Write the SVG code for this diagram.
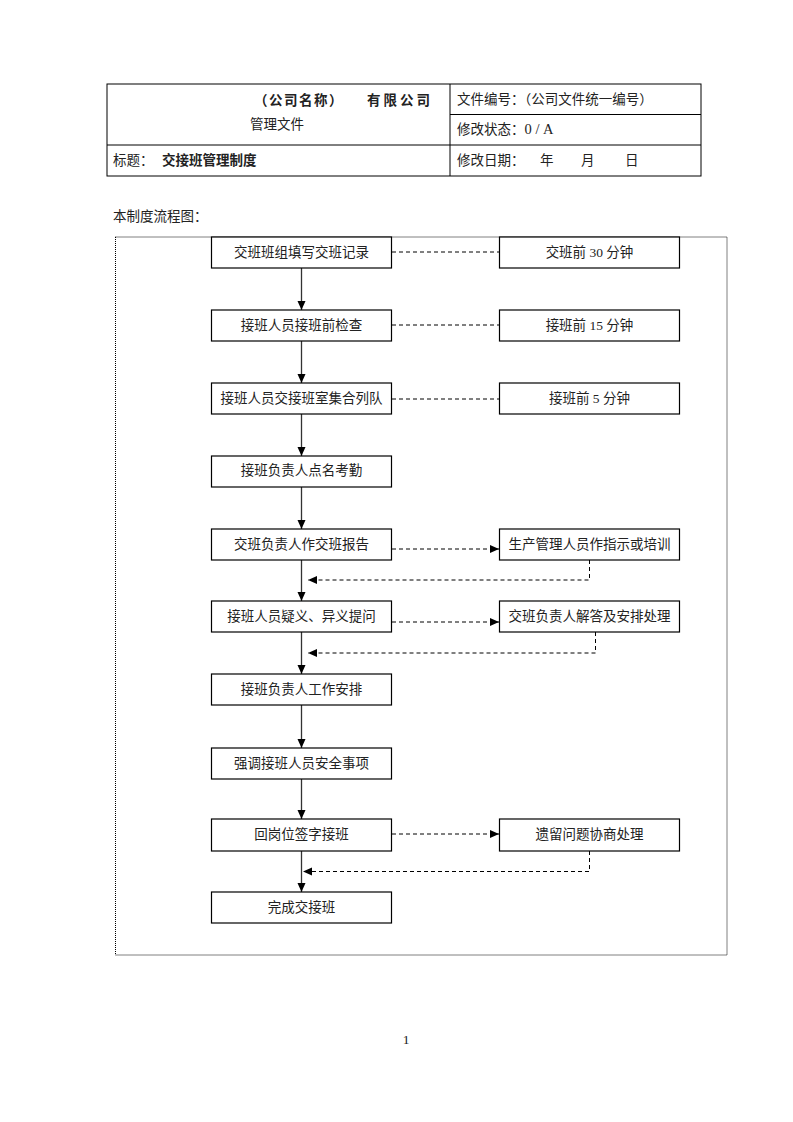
<svg xmlns="http://www.w3.org/2000/svg" width="793" height="1122" viewBox="0 0 793 1122">
<defs>
<style>
text{font-family:"Liberation Serif","Noto Sans CJK SC",serif;font-size:13.5px;fill:#222}
.c{text-anchor:middle}
.box{fill:#fff;stroke:#000;stroke-width:1.2}
.tb{fill:none;stroke:#000;stroke-width:1}
.flow{stroke:#333;stroke-width:1.3;fill:none}
.dash{stroke:#000;stroke-width:1;stroke-dasharray:4,3;fill:none}
.frame{fill:none;stroke:#000;stroke-width:1;stroke-dasharray:1,1}
</style>
<marker id="ah" markerWidth="10" markerHeight="10" refX="9" refY="5" orient="auto" markerUnits="userSpaceOnUse">
<path d="M0,1 L9,5 L0,9 Z" fill="#000"/>
</marker>
</defs>
<rect width="793" height="1122" fill="#fff"/>
<g id="header">
<rect class="tb" x="107" y="84" width="594" height="92"/>
<line class="tb" x1="450" y1="84" x2="450" y2="176"/>
<line class="tb" x1="450" y1="114.5" x2="701" y2="114.5"/>
<line class="tb" x1="107" y1="145" x2="701" y2="145"/>
<text x="254" y="105" font-weight="bold" letter-spacing="1.5">（公司名称）</text>
<text x="367" y="105" font-weight="bold" letter-spacing="3">有限公司</text>
<text x="250" y="129">管理文件</text>
<text x="457" y="104">文件编号：（公司文件统一编号）</text>
<text x="457" y="134">修改状态：<tspan font-size="14.5">0 / A</tspan></text>
<text x="113" y="165">标题：</text>
<text x="162" y="165" font-weight="bold">交接班管理制度</text>
<text x="457" y="165">修改日期：</text>
<text x="540" y="165">年</text>
<text x="581" y="165">月</text>
<text x="625" y="165">日</text>
</g>
<text x="113" y="221">本制度流程图：</text>
<rect class="frame" x="115.5" y="237" width="611.5" height="718"/>
<g id="connectors">
<line class="flow" x1="301.5" y1="268" x2="301.5" y2="310" marker-end="url(#ah)"/>
<line class="flow" x1="301.5" y1="341" x2="301.5" y2="383" marker-end="url(#ah)"/>
<line class="flow" x1="301.5" y1="414" x2="301.5" y2="456" marker-end="url(#ah)"/>
<line class="flow" x1="301.5" y1="487" x2="301.5" y2="529" marker-end="url(#ah)"/>
<line class="flow" x1="301.5" y1="560" x2="301.5" y2="601" marker-end="url(#ah)"/>
<line class="flow" x1="301.5" y1="632" x2="301.5" y2="674" marker-end="url(#ah)"/>
<line class="flow" x1="301.5" y1="705" x2="301.5" y2="748" marker-end="url(#ah)"/>
<line class="flow" x1="301.5" y1="779" x2="301.5" y2="819" marker-end="url(#ah)"/>
<line class="flow" x1="301.5" y1="851" x2="301.5" y2="892" marker-end="url(#ah)"/>
<line class="dash" x1="392" y1="252" x2="499" y2="252"/>
<line class="dash" x1="392" y1="325" x2="499" y2="325"/>
<line class="dash" x1="392" y1="399" x2="499" y2="399"/>
<line class="dash" x1="392" y1="549" x2="499" y2="549" marker-end="url(#ah)"/>
<line class="dash" x1="392" y1="622" x2="499" y2="622" marker-end="url(#ah)"/>
<line class="dash" x1="392" y1="834" x2="499" y2="834" marker-end="url(#ah)"/>
<polyline class="dash" points="589.5,560 589.5,580 308,580" marker-end="url(#ah)"/>
<polyline class="dash" points="595.5,632 595.5,653 308,653" marker-end="url(#ah)"/>
<polyline class="dash" points="589.5,851 589.5,871.5 303,871.5" marker-end="url(#ah)"/>
</g>
<g id="n1"><rect class="box" x="211.5" y="237" width="180" height="31"/><text class="c" x="301.5" y="257">交班班组填写交班记录</text></g>
<g id="n2"><rect class="box" x="211.5" y="310" width="180" height="31"/><text class="c" x="301.5" y="330">接班人员接班前检查</text></g>
<g id="n3"><rect class="box" x="211.5" y="383" width="180" height="31"/><text class="c" x="301.5" y="403">接班人员交接班室集合列队</text></g>
<g id="n4"><rect class="box" x="211.5" y="456" width="180" height="31"/><text class="c" x="301.5" y="475">接班负责人点名考勤</text></g>
<g id="n5"><rect class="box" x="211.5" y="529" width="180" height="31"/><text class="c" x="301.5" y="549">交班负责人作交班报告</text></g>
<g id="n6"><rect class="box" x="211.5" y="601" width="180" height="31"/><text class="c" x="301.5" y="621">接班人员疑义、异义提问</text></g>
<g id="n7"><rect class="box" x="211.5" y="674" width="180" height="31"/><text class="c" x="301.5" y="694">接班负责人工作安排</text></g>
<g id="n8"><rect class="box" x="211.5" y="748" width="180" height="31"/><text class="c" x="301.5" y="768">强调接班人员安全事项</text></g>
<g id="n9"><rect class="box" x="211.5" y="819" width="180" height="32"/><text class="c" x="301.5" y="839">回岗位签字接班</text></g>
<g id="n10"><rect class="box" x="211.5" y="892" width="180" height="31"/><text class="c" x="301.5" y="912">完成交接班</text></g>
<g id="r1"><rect class="box" x="499.5" y="237" width="180" height="31"/><text class="c" x="589.5" y="257">交班前 30 分钟</text></g>
<g id="r2"><rect class="box" x="499.5" y="310" width="180" height="31"/><text class="c" x="589.5" y="330">接班前 15 分钟</text></g>
<g id="r3"><rect class="box" x="499.5" y="383" width="180" height="31"/><text class="c" x="589.5" y="403">接班前 5 分钟</text></g>
<g id="r5"><rect class="box" x="499.5" y="529" width="180" height="31"/><text class="c" x="589.5" y="549">生产管理人员作指示或培训</text></g>
<g id="r6"><rect class="box" x="499.5" y="601" width="180" height="31"/><text class="c" x="589.5" y="621">交班负责人解答及安排处理</text></g>
<g id="r9"><rect class="box" x="499.5" y="819" width="180" height="32"/><text class="c" x="589.5" y="839">遗留问题协商处理</text></g>
<text class="c" x="406" y="1044" font-size="12">1</text>
</svg>
